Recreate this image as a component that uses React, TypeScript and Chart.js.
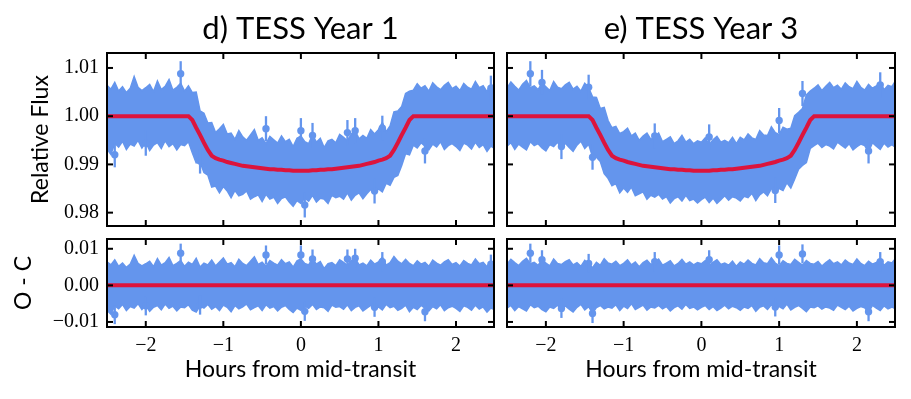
import React, { useEffect, useRef } from "react";
import { Chart, registerables } from "chart.js";

Chart.register(...registerables);

// ---- data ----
const T = [
  -2.5, -2.45, -2.4, -2.35, -2.3, -2.25, -2.2, -2.15, -2.1, -2.05,
  -2, -1.95, -1.9, -1.85, -1.8, -1.75, -1.7, -1.65, -1.6, -1.55,
  -1.5, -1.45, -1.4, -1.35, -1.3, -1.25, -1.2, -1.15, -1.1, -1.05,
  -1, -0.95, -0.9, -0.85, -0.8, -0.75, -0.7, -0.65, -0.6, -0.55,
  -0.5, -0.45, -0.4, -0.35, -0.3, -0.25, -0.2, -0.15, -0.1, -0.05,
  0, 0.05, 0.1, 0.15, 0.2, 0.25, 0.3, 0.35, 0.4, 0.45,
  0.5, 0.55, 0.6, 0.65, 0.7, 0.75, 0.8, 0.85, 0.9, 0.95,
  1, 1.05, 1.1, 1.15, 1.2, 1.25, 1.3, 1.35, 1.4, 1.45,
  1.5, 1.55, 1.6, 1.65, 1.7, 1.75, 1.8, 1.85, 1.9, 1.95,
  2, 2.05, 2.1, 2.15, 2.2, 2.25, 2.3, 2.35, 2.4, 2.45, 2.5,
];

// transit model (relative flux) at the times T
const MODEL = [
  1, 1, 1, 1, 1, 1, 1, 1, 1, 1,
  1, 1, 1, 1, 1, 1, 1, 1, 1, 1,
  1, 1, 0.9992, 0.9976, 0.9961, 0.9945, 0.993, 0.9918, 0.9913, 0.991,
  0.9908, 0.9905, 0.9903, 0.9901, 0.9899, 0.9897, 0.9896, 0.9895, 0.9894, 0.9893,
  0.9892, 0.9891, 0.989, 0.989, 0.9889, 0.9889, 0.9888, 0.9888, 0.9887, 0.9887,
  0.9887, 0.9887, 0.9887, 0.9888, 0.9888, 0.9889, 0.9889, 0.989, 0.989, 0.9891,
  0.9892, 0.9893, 0.9894, 0.9895, 0.9896, 0.9897, 0.9899, 0.9901, 0.9903, 0.9905,
  0.9908, 0.991, 0.9913, 0.9918, 0.993, 0.9945, 0.9961, 0.9976, 0.9992, 1,
  1, 1, 1, 1, 1, 1, 1, 1, 1, 1,
  1, 1, 1, 1, 1, 1, 1, 1, 1, 1, 1,
];

// residual scatter envelope (tops / bottoms of error bars), parts per thousand
const RES_HI_Y1 = [
  6.4, 5.6, 7.0, 5.2, 6.1, 4.9, 5.8, 8.2, 6.0, 5.3,
  5.9, 6.6, 5.1, 7.3, 5.5, 6.2, 7.6, 5.4, 6.0, 6.8,
  5.2, 6.3, 5.7, 7.4, 5.0, 6.1, 5.6, 6.9, 5.3, 6.4,
  7.5, 5.8, 6.2, 5.1, 7.1, 6.0, 5.4, 6.6, 7.8, 5.7,
  6.3, 5.2, 6.8, 6.1, 5.5, 7.0, 5.9, 6.4, 5.0, 6.7,
  7.2, 6.0, 5.6, 7.3, 5.8, 6.5, 4.6, 5.9, 6.2, 5.4,
  7.0, 6.3, 5.5, 6.8, 7.4, 5.6, 6.1, 5.3, 6.9, 5.8,
  6.4, 7.7, 5.5, 6.2, 7.9, 6.6, 5.9, 7.1, 6.0, 5.4,
  6.7, 5.8, 6.3, 5.2, 6.9, 6.1, 5.5, 6.4, 7.0, 5.7,
  6.2, 5.3, 6.8, 6.0, 5.6, 7.2, 5.9, 6.3, 5.1, 6.6, 6.0,
];
const RES_LO_Y1 = [
  -6.8, -7.9, -5.6, -6.4, -5.2, -6.9, -5.8, -6.2, -5.0, -6.6,
  -5.4, -7.1, -6.0, -5.5, -6.7, -5.1, -6.3, -5.7, -7.0, -5.9,
  -6.1, -5.3, -6.8, -7.3, -5.6, -6.2, -5.2, -6.5, -5.8, -6.9,
  -5.4, -6.0, -7.2, -5.5, -6.4, -5.9, -5.1, -6.7, -6.1, -5.6,
  -6.9, -5.3, -6.2, -5.8, -7.0, -6.0, -5.5, -6.6, -7.4, -6.2,
  -6.8, -5.7, -6.3, -5.2, -6.6, -5.9, -6.1, -7.1, -5.4, -6.0,
  -5.8, -6.5, -5.3, -6.9, -6.0, -5.6, -7.0, -6.2, -5.5, -6.4,
  -5.9, -6.7, -5.2, -6.1, -5.7, -6.8, -6.3, -5.4, -7.2, -6.0,
  -6.6, -5.5, -6.2, -7.0, -5.8, -6.4, -5.3, -6.9, -6.1, -5.7,
  -6.3, -7.1, -5.6, -6.0, -6.8, -5.4, -6.5, -5.9, -7.3, -6.2, -6.7,
];
const RES_HI_Y3 = [
  5.8, 7.1, 6.2, 5.4, 6.6, 7.4, 5.9, 6.3, 5.5, 6.9,
  6.1, 5.3, 7.2, 6.0, 5.7, 6.5, 7.0, 5.6, 6.2, 5.2,
  6.8, 5.9, 4.8, 6.3, 5.5, 7.3, 6.1, 5.8, 6.6, 5.4,
  6.0, 7.0, 5.6, 6.4, 5.1, 6.2, 6.9, 5.7, 6.3, 7.2,
  5.5, 6.1, 6.7, 5.3, 6.0, 7.1, 5.8, 6.4, 5.6, 6.2,
  5.9, 6.8, 5.4, 6.3, 7.0, 5.7, 6.1, 5.5, 6.6, 5.2,
  6.4, 5.8, 6.9, 6.0, 5.6, 7.3, 6.2, 5.9, 7.5, 6.1,
  5.4, 6.7, 6.0, 5.7, 7.1, 6.3, 5.5, 6.8, 6.0, 5.8,
  6.5, 5.3, 6.2, 7.0, 5.9, 6.4, 5.6, 6.9, 6.1, 5.7,
  7.2, 6.0, 5.4, 6.6, 5.8, 6.3, 7.0, 5.5, 6.4, 6.1, 7.4,
];
const RES_LO_Y3 = [
  -6.2, -5.5, -6.9, -5.8, -6.4, -7.0, -5.3, -6.1, -5.7, -6.6,
  -7.2, -5.9, -6.3, -5.4, -6.8, -5.6, -6.5, -7.3, -6.0, -5.2,
  -6.7, -5.8, -7.6, -6.1, -5.5, -6.4, -5.9, -6.2, -5.3, -6.9,
  -5.7, -6.3, -5.0, -6.6, -6.0, -5.4, -6.8, -5.9, -6.2, -5.5,
  -6.4, -5.8, -7.0, -6.1, -5.6, -6.5, -5.2, -6.3, -5.9, -6.7,
  -6.0, -5.5, -6.6, -5.8, -6.9, -6.2, -5.4, -6.4, -5.7, -6.1,
  -6.8, -5.9, -6.3, -5.5, -7.1, -6.0, -5.6, -6.6, -5.3, -6.2,
  -5.8, -6.4, -5.1, -6.7, -6.0, -5.5, -6.3, -7.2, -5.9, -6.1,
  -5.6, -6.5, -5.9, -6.2, -6.8, -5.4, -6.0, -6.6, -5.7, -7.0,
  -6.3, -5.8, -6.1, -7.4, -5.5, -6.2, -6.9, -5.6, -6.4, -5.9, -6.5,
];

// individual outlying points (time, residual in ppt) and their error (ppt)
const SPIKE_T_Y1 = [-1.55, -0.45, 0, 0.15, 0.6, 0.7, 1.05, 2.45, -2.4, -2, -1.3, 0.05, 0.95, 1.6];
const SPIKE_R_Y1 = [8.8, 8.3, 8.3, 7.2, 7.2, 7.4, 6.5, 5.8, -8.0, -5.6, -5.4, -7.1, -6.0, -7.2];
const SPIKE_T_Y3 = [-2.2, -2.05, -1.45, -0.6, 0.1, 1, 1.3, 2.3, -1.8, -1.4, 0.95, 2.15];
const SPIKE_R_Y3 = [8.8, 7.0, 6.0, 6.5, 7.0, 8.3, 8.6, 6.5, -6.3, -7.7, -5.9, -7.2];
const SPIKE_ERR = 2.6;

const FLUX_TICKS = [0.98, 0.99, 1.0, 1.01];
const FLUX_TICK_LABELS = ["0.98", "0.99", "1.00", "1.01"];
const OC_TICKS = [-0.01, 0, 0.01];
const OC_TICK_LABELS = ["\u22120.01", "0.00", "0.01"];
const HOUR_TICKS = [-2, -1, 0, 1, 2];
const HOUR_TICK_LABELS = ["\u22122", "\u22121", "0", "1", "2"];
const TITLES = ["d) TESS Year 1", "e) TESS Year 3"];

// ---- styling ----
const BLUE = "#6495ED";
const RED = "#DC143C";
const SANS = "Lato";
const SERIF = "Liberation Serif";

const framePlugin = {
  id: "frame",
  afterDatasetDraw(chart: any, args: any) {
    const ds = chart.data.datasets[args.index];
    if (!ds.errs) return;
    const { ctx, chartArea: ca } = chart;
    const y = chart.scales.y;
    ctx.save();
    ctx.beginPath();
    ctx.rect(ca.left, ca.top, ca.right - ca.left, ca.bottom - ca.top);
    ctx.clip();
    ctx.strokeStyle = BLUE;
    ctx.lineWidth = 2.3;
    args.meta.data.forEach((pt: any, k: number) => {
      const v = ds.data[k].y;
      const e = ds.errs[k];
      ctx.beginPath();
      ctx.moveTo(pt.x, y.getPixelForValue(v + e));
      ctx.lineTo(pt.x, y.getPixelForValue(v - e));
      ctx.stroke();
    });
    ctx.restore();
  },
  afterDraw(chart: any) {
    const { ctx, chartArea: ca } = chart;
    const x = chart.scales.x;
    const y = chart.scales.y;
    const L = 6;
    ctx.save();
    ctx.strokeStyle = "#000";
    ctx.lineWidth = 2;
    const seg = (x1: number, y1: number, x2: number, y2: number) => {
      ctx.beginPath();
      ctx.moveTo(x1, y1);
      ctx.lineTo(x2, y2);
      ctx.stroke();
    };
    HOUR_TICKS.forEach((v) => {
      const px = x.getPixelForValue(v);
      seg(px, ca.top, px, ca.top + L);
      seg(px, ca.bottom, px, ca.bottom - L);
    });
    y.ticks.forEach((t: any) => {
      const py = y.getPixelForValue(t.value);
      seg(ca.left, py, ca.left + L, py);
      seg(ca.right, py, ca.right - L, py);
    });
    ctx.strokeRect(ca.left, ca.top, ca.right - ca.left, ca.bottom - ca.top);
    ctx.restore();
  },
};

function buildConfig(col: number, row: number): any {
  const isTop = row === 0;
  const hi = col === 0 ? RES_HI_Y1 : RES_HI_Y3;
  const lo = col === 0 ? RES_LO_Y1 : RES_LO_Y3;
  const st = col === 0 ? SPIKE_T_Y1 : SPIKE_T_Y3;
  const sr = col === 0 ? SPIKE_R_Y1 : SPIKE_R_Y3;
  const base = isTop ? MODEL : T.map(() => 0);

  const upper = T.map((t, i) => ({ x: t, y: base[i] + hi[i] / 1000 }));
  const lower = T.map((t, i) => ({ x: t, y: base[i] + lo[i] / 1000 }));
  const model = T.map((t, i) => ({ x: t, y: base[i] }));
  const spikes = st.map((t, k) => {
    const i = T.findIndex((v) => Math.abs(v - t) < 1e-9);
    return { x: t, y: base[i] + sr[k] / 1000 };
  });

  const yTicks = isTop ? FLUX_TICKS : OC_TICKS;
  const yLabels = isTop ? FLUX_TICK_LABELS : OC_TICK_LABELS;
  const tickFont = { family: SERIF, size: 20 };
  const labelFont = { family: SANS, size: 23, lineHeight: 1.2 };

  return {
    type: "line",
    data: {
      datasets: [
        { type: "line", data: model, borderColor: RED, borderWidth: 4, pointRadius: 0, fill: false, order: 0 },
        {
          type: "scatter", data: spikes, pointRadius: 3.7, pointBackgroundColor: BLUE,
          pointBorderWidth: 0, backgroundColor: BLUE, order: 1,
          errs: spikes.map(() => SPIKE_ERR / 1000),
        },
        { type: "line", data: upper, borderColor: BLUE, borderWidth: 1.5, pointRadius: 0, fill: "+1", backgroundColor: BLUE, order: 2 },
        { type: "line", data: lower, borderColor: BLUE, borderWidth: 1.5, pointRadius: 0, fill: false, order: 3 },
      ],
    },
    options: {
      animation: false,
      responsive: false,
      maintainAspectRatio: false,
      events: [],
      layout: {
        padding: {
          left: col === 0 ? 0 : 500,
          right: col === 0 ? 417 : 16,
          top: isTop ? 0 : 239,
          bottom: isTop ? 172 : 0,
        },
      },
      plugins: {
        legend: { display: false },
        tooltip: { enabled: false },
        title: isTop
          ? {
              display: true, text: TITLES[col], fullSize: false, color: "#000",
              font: { family: SANS, size: 31, weight: "normal", lineHeight: 1.2 },
              padding: { top: 9.9, bottom: 5.9 },
            }
          : { display: false },
      },
      scales: {
        x: {
          type: "linear", min: -2.5, max: 2.49,
          grid: { display: false, drawTicks: false },
          border: { display: false },
          afterBuildTicks: (s: any) => { s.ticks = HOUR_TICKS.map((v) => ({ value: v })); },
          afterFit: (s: any) => { s.height = isTop ? 1 : 72; },
          ticks: {
            display: !isTop, color: "#000", font: tickFont, padding: 7,
            autoSkip: false, maxRotation: 0,
            callback: (_v: any, i: number) => HOUR_TICK_LABELS[i],
          },
          title: isTop
            ? { display: false }
            : { display: true, text: "Hours from mid-transit", color: "#000", font: labelFont, padding: { top: 0, bottom: 15.7 } },
        },
        y: {
          type: "linear",
          min: isTop ? 0.97723 : -0.01138,
          max: isTop ? 1.0131 : 0.01267,
          grid: { display: false, drawTicks: false },
          border: { display: false },
          afterBuildTicks: (s: any) => { s.ticks = yTicks.map((v) => ({ value: v })); },
          afterFit: (s: any) => { s.width = col === 0 ? 107 : 7; },
          ticks: {
            display: col === 0, color: "#000", font: tickFont, padding: 8,
            callback: (_v: any, i: number) => yLabels[i],
          },
          title:
            col === 0
              ? {
                  display: true, text: isTop ? "Relative Flux" : "O - C", color: "#000", font: labelFont,
                  padding: { top: isTop ? 27.2 : 10.2, bottom: 0 },
                }
              : { display: false },
        },
      },
    },
    plugins: [framePlugin],
  };
}

function Panel({ col, row }: { col: number; row: number }) {
  const ref = useRef<HTMLCanvasElement | null>(null);
  useEffect(() => {
    if (!ref.current) return;
    const chart = new Chart(ref.current, buildConfig(col, row));
    return () => chart.destroy();
  }, [col, row]);
  return (
    <canvas
      ref={ref}
      width={911}
      height={399}
      style={{ position: "absolute", left: 0, top: 0, width: 911, height: 399 }}
    />
  );
}

export default function App() {
  return (
    <div style={{ position: "absolute", left: 0, top: 0, width: 911, height: 399, background: "#fff" }}>
      <Panel col={0} row={0} />
      <Panel col={0} row={1} />
      <Panel col={1} row={0} />
      <Panel col={1} row={1} />
    </div>
  );
}
